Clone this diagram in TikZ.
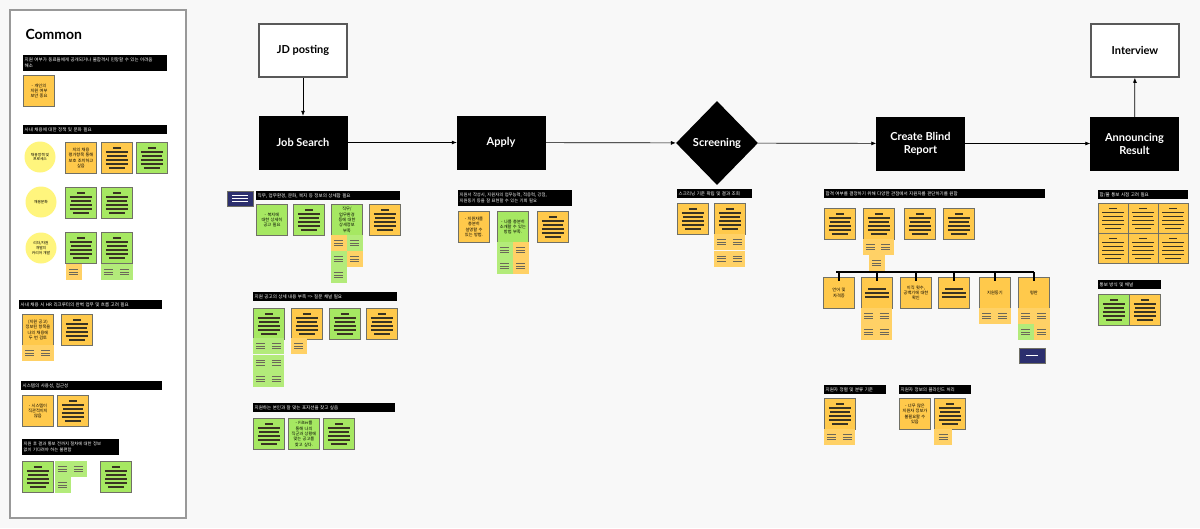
\documentclass[tikz,border=0pt]{standalone}
\usepackage{fontspec}
\setmainfont{Lato}
\newfontfamily\kr{Noto Sans CJK KR}
\usetikzlibrary{arrows.meta,shapes.geometric}

\definecolor{canvas}{HTML}{F8F8F8}
\definecolor{noteorange}{HTML}{FFC94B}
\definecolor{notegreen}{HTML}{A6E862}
\definecolor{bubbleyellow}{HTML}{FFF57D}
\definecolor{navy}{HTML}{2C2F6E}
\definecolor{noteedge}{HTML}{707066}
\definecolor{inkline}{HTML}{3A3422}

\begin{document}
\begin{tikzpicture}[
x=1pt, y=-1pt,
flowbox/.style={
draw=black,
fill=black,
text=white,
align=center,
font=\bfseries\fontsize{11}{13}\selectfont,
minimum width=88,
minimum height=53,
inner sep=2pt
},
endbox/.style={flowbox, fill=white, text=black, draw=black!65, line width=1.5pt},
decision/.style={diamond, fill=black, text=white,
font=\bfseries\fontsize{11}{13}\selectfont,
minimum width=82, minimum height=84, inner sep=0pt},
flow/.style={-{Latex[length=5pt,width=4pt]}, line width=0.7pt},
bus/.style={line width=1.4pt},
bar/.style={fill=black, text=white, anchor=north west, align=left,
inner xsep=1.5pt, inner ysep=1pt, text width=#1pt, minimum height=9,
font=\kr\fontsize{4.5}{6}\selectfont},
note/.style={anchor=north west, draw=noteedge, line width=0.9pt,
minimum width=31, minimum height=31, inner sep=0.5pt, align=center,
text width=29pt, font=\kr\fontsize{4.2}{5.3}\selectfont},
onote/.style={note, fill=noteorange},
gnote/.style={note, fill=notegreen},
lined/.style={path picture={
\foreach \dy/\w in {-10/8,-6/11,-2/11,2/10,6/11,10/4}
\draw[line width=1.2pt, draw=inkline]
([xshift=-\w pt, yshift=\dy pt]path picture bounding box.center) -- ++(2*\w,0);}},
lined3/.style={path picture={
\foreach \dy/\w in {-4/12,0/12,4/9}
\draw[line width=1.2pt, draw=inkline]
([xshift=-\w pt, yshift=\dy pt]path picture bounding box.center) -- ++(2*\w,0);}},
chip/.style={anchor=north west, minimum width=15.5, minimum height=16, inner sep=0pt,
path picture={
\foreach \dy in {-2.5,0,2.5}
\draw[line width=0.7pt, draw=inkline!75]
([xshift=-4.5pt, yshift=\dy pt]path picture bounding box.center) -- ++(9,0);}},
ochip/.style={chip, fill=noteorange!85!white},
gchip/.style={chip, fill=notegreen!85!white},
bubble/.style={circle, fill=bubbleyellow, minimum size=31, inner sep=0pt,
align=center, font=\kr\fontsize{3.8}{4.8}\selectfont},
navynote/.style={anchor=north west, fill=navy, draw=noteedge, line width=0.5pt,
minimum width=26, minimum height=15, inner sep=0pt}
]
\fill[canvas] (0,0) rectangle (1200,528);
\useasboundingbox (0,0) rectangle (1200,528);

% common column
\draw[draw=black!40, line width=1.5pt, fill=white] (10,10) rectangle (186,518);
\node[anchor=west, font=\bfseries\fontsize{14}{16}\selectfont] (common) at (22,34) {Common};

\node[bar=141, minimum height=16] (cm-b1) at (23,55)
{지원 여부가 동료들에게 공개되거나 불합격시 민망할 수 있는 어려움\\해소};
\node[onote] (cm-n1) at (23,75) {- 개인의\\지원 여부\\보안 중요};

\node[bar=141] (cm-b2) at (23,125) {사내 채용에 대한 정책 및 문화 필요};
\node[bubble] (cm-p1) at (40,157) {채용정책 및\\프로세스};
\node[onote] (cm-n2) at (65,142) {지의 채용\\평가항목 통해\\보호 조치하고\\싶음};
\node[onote, lined] (cm-n3) at (101,142) {};
\node[gnote, lined] (cm-n4) at (136,142) {};

\node[bubble] (cm-p2) at (41,202) {채용문화};
\node[gnote, lined] (cm-n5) at (65,187) {};
\node[gnote, lined] (cm-n6) at (101,187) {};

\node[bubble] (cm-p3) at (41,248) {리더/자원\\개발의\\커리어 개발};
\node[gnote, lined] (cm-n7) at (65,232) {};
\node[gnote, lined] (cm-n8) at (101,232) {};
\node[ochip] (cm-s1) at (66,264) {};
\node[gchip] (cm-s2) at (101,264) {};
\node[gchip] (cm-s3) at (117,264) {};

\node[bar=140] (cm-b3) at (19,300) {사내 채용 시 HR 리크루터의 완벽 업무 및 흐름 고려 필요};
\node[onote] (cm-n9) at (22,314) {(지원 공고)\\정보된 항목을\\나의 채용에\\두 번 검토};
\node[onote, lined] (cm-n10) at (61,314) {};
\node[ochip] (cm-s4) at (22,345) {};
\node[ochip] (cm-s5) at (38,345) {};

\node[bar=138] (cm-b4) at (21,381) {시스템의 사용성, 접근성};
\node[onote] (cm-n11) at (22,395) {- 시스템이\\직관적이지\\않음};
\node[onote, lined] (cm-n12) at (57,395) {};

\node[bar=94, minimum height=16, font=\kr\fontsize{4.3}{6}\selectfont] (cm-b5) at (22,439)
{지원 후 결과 통보 전까지 절차에 대한 정보\\없이 기다려야 하는 불편함};
\node[gnote, lined] (cm-n13) at (22,461) {};
\node[gchip] (cm-s6) at (55,461) {};
\node[gchip] (cm-s7) at (71,461) {};
\node[gchip] (cm-s8) at (55,477) {};
\node[gnote, lined] (cm-n14) at (100,461) {};

% main flow
\node[endbox] (jd) at (303,50.5) {JD posting};
\node[flowbox] (search) at (303,142.5) {Job Search};
\node[flowbox] (apply) at (501,142.5) {Apply};
\node[decision] (screen) at (717,143) {Screening};
\node[flowbox] (blind) at (920.5,143.5) {Create Blind\\Report};
\node[flowbox] (result) at (1134.5,143.5) {Announcing\\Result};
\node[endbox] (interview) at (1135,50.5) {Interview};

\draw[flow] (jd) -- (search);
\draw[flow] (search) -- (apply);
\draw[flow] (apply) -- (screen);
\draw[flow] (screen) -- (blind);
\draw[flow] (blind) -- (result);
\draw[flow] (result) -- (interview);

% job search
\node[navynote] (js-nv) at (227,191) {};
\foreach \dy in {-3,0,3}
\draw[white, line width=0.6pt] ([xshift=-8pt, yshift=\dy pt]js-nv.center) -- ++(16,0);
\node[bar=141] (js-b1) at (256,191) {직무, 업무환경, 문화, 복지 등 정보의 상세함 필요};
\node[gnote] (js-n1) at (256,204) {- 복지에\\대한 상세히\\공고 필요};
\node[gnote, lined] (js-n2) at (293,204) {};
\node[gnote] (js-n3) at (331,204) {직무/\\업무환경\\등에 대한\\상세정보\\부족};
\node[onote, lined] (js-n4) at (369,204) {};
\node[ochip] (js-s1) at (331,235) {};
\node[gchip] (js-s2) at (347,235) {};
\node[gchip] (js-s3) at (331,251) {};
\node[ochip] (js-s4) at (347,251) {};
\node[gchip] (js-s5) at (331,267) {};

\node[bar=141] (js-b2) at (253,292) {지원 공고의 상세 내용 부족 => 질문 채널 필요};
\node[gnote, lined] (js-n5) at (253,308) {};
\node[onote, lined] (js-n6) at (291,308) {};
\node[gnote, lined] (js-n7) at (329,308) {};
\node[onote, lined] (js-n8) at (366,308) {};
\foreach \row in {0,1,2}
\foreach \col in {0,1}
\node[gchip] (js-g\row\col) at (253+15.5*\col,338+16.5*\row) {};
\node[ochip] (js-s6) at (291,338) {};

\node[bar=139] (js-b3) at (253,403) {지원하는 본인과 잘 맞는 포지션을 찾고 싶음};
\node[gnote, lined] (js-n9) at (253,418) {};
\node[gnote] (js-n10) at (288,418) {- Filter를\\통해 나의\\직군과 상황에\\맞는 공고를\\찾고 싶다.};
\node[gnote, lined] (js-n11) at (323,418) {};

% apply
\node[bar=111, minimum height=16, font=\kr\fontsize{4.3}{6}\selectfont] (ap-b1) at (458,190)
{지원서 작성시, 지원자의 업무능력, 적응력, 강점,\\지원동기 등을 잘 표현할 수 있는 기회 필요};
\node[onote] (ap-n1) at (458,211) {- 지원자를\\충분히\\설명할 수\\있는 방법.};
\node[gnote] (ap-n2) at (497,211) {- 나를 충분히\\소개할 수 있는\\방법 부족.};
\node[onote, lined] (ap-n3) at (537,211) {};
\node[gchip] (ap-s1) at (497,242) {};
\node[ochip] (ap-s2) at (513,242) {};
\node[gchip] (ap-s3) at (497,258) {};
\node[ochip] (ap-s4) at (513,258) {};

% screening
\node[bar=72] (sc-b1) at (677,189) {스크리닝 기준 확립 및 결과 조회};
\node[onote, lined] (sc-n1) at (677,203) {};
\node[onote, lined] (sc-n2) at (714,203) {};
\foreach \row in {0,1}
\foreach \col in {0,1}
\node[ochip] (sc-s\row\col) at (714+15.5*\col,234+16.5*\row) {};

% blind report
\node[bar=218] (br-b1) at (824,189) {합격 여부를 결정하기 위해 다양한 관점에서 지원자를 판단하기를 원함};
\node[onote, lined] (br-n1) at (824,208) {};
\node[onote, lined] (br-n2) at (863,208) {};
\node[onote, lined] (br-n3) at (904,208) {};
\node[onote, lined] (br-n4) at (943,208) {};
\node[ochip] (br-s1) at (863,239) {};
\node[ochip] (br-s2) at (878,239) {};
\node[ochip] (br-s3) at (869,255) {};

\node[onote] (br-m1) at (823,277) {언어 및\\자격증};
\node[onote, lined3] (br-m2) at (861,277) {};
\node[onote] (br-m3) at (900,277) {이직 횟수,\\공백기에 대한\\확인};
\node[onote, lined3] (br-m4) at (938,277) {};
\node[onote] (br-m5) at (979,277) {지원동기};
\node[onote] (br-m6) at (1018,277) {평판};
\coordinate (busL) at (836,272);
\coordinate (busR) at (1034,272);
\draw[bus] (busL) -- (busR);
\foreach \i in {1,...,6}
\draw[bus] (br-m\i.north |- busL) -- ([yshift=-4pt]br-m\i.north);

\foreach \row in {0,1}
\foreach \col in {0,1}
\node[ochip] (br-t\row\col) at (861+15.5*\col,308+16*\row) {};
\node[ochip] (br-s4) at (979,308) {};
\node[ochip] (br-s5) at (995,308) {};
\node[ochip] (br-s6) at (1018,308) {};
\node[ochip] (br-s7) at (1034,308) {};
\node[gchip] (br-s8) at (1018,324) {};
\node[ochip] (br-s9) at (1034,324) {};
\node[navynote] (br-nv) at (1019,348) {};
\draw[white, line width=0.6pt] ([xshift=-6pt]br-nv.center) -- ++(12,0);

\node[bar=59] (br-b2) at (824,385) {지원자 정렬 및 분류 기준};
\node[onote, lined] (br-n5) at (824,398) {};
\node[ochip] (br-s10) at (824,429) {};
\node[ochip] (br-s11) at (839.5,429) {};

\node[bar=69] (br-b3) at (899,385) {지원자 정보의 블라인드 처리};
\node[onote] (br-n6) at (899,398) {- 너무 많은\\지원자 정보가\\불필요할 수\\있음};
\node[onote, lined] (br-n7) at (934,398) {};
\node[ochip, minimum width=18] (br-s12) at (934,429) {};

% announcing result
\node[bar=87] (an-b1) at (1098,190) {합/불 통보 시점 고려 필요};
\foreach \row in {0,1}
\foreach \col in {0,1,2}
\node[onote, lined, minimum width=30, minimum height=30] (an-n\row\col) at (1098+30*\col,203+30*\row) {};

\node[bar=60] (an-b2) at (1098,280) {통보 방식 및 채널};
\node[gnote, lined] (an-n7) at (1098,294) {};
\node[onote, lined] (an-n8) at (1129,294) {};
\end{tikzpicture}
\end{document}
